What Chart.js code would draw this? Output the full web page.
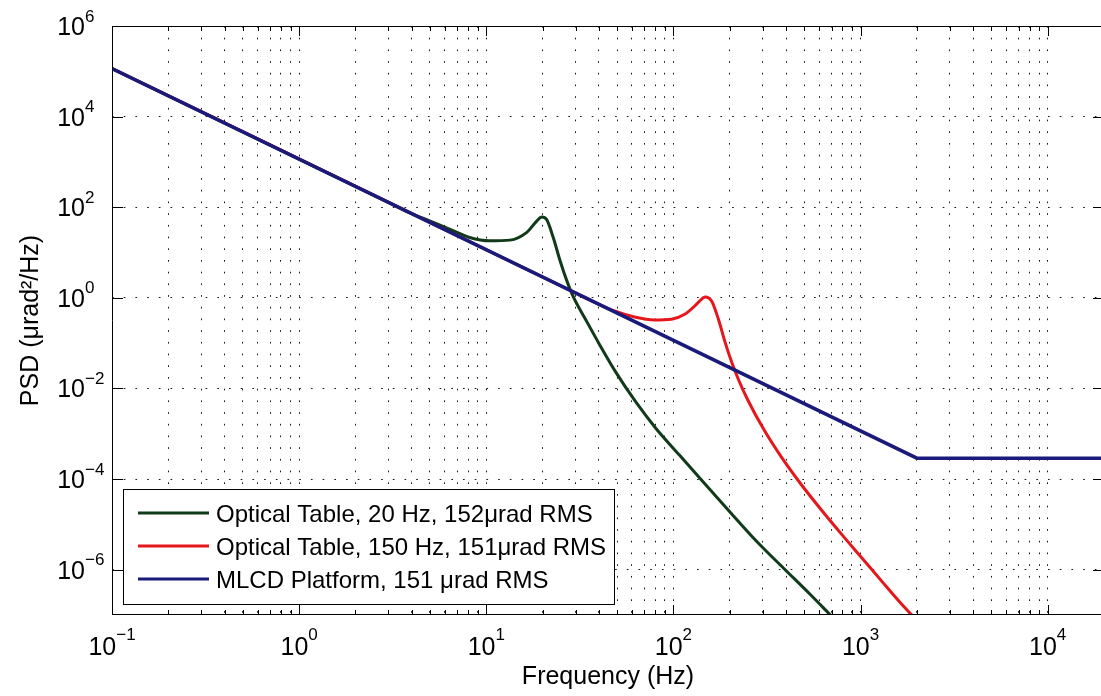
<!DOCTYPE html>
<html>
<head>
<meta charset="utf-8">
<script src="https://cdn.jsdelivr.net/npm/chart.js@4.4.1/dist/chart.umd.min.js"></script>
<style>
  html, body { margin: 0; padding: 0; background: #fff; overflow: hidden; }
</style>
</head>
<body>
<canvas id="psd" width="1110" height="696"></canvas>
<script>
// legend entries, in legend order
const seriesNames = [
    'Optical Table, 20 Hz, 152\u03bcrad RMS',
    'Optical Table, 150 Hz, 151\u03bcrad RMS',
    'MLCD Platform, 151 \u03bcrad RMS'
];
const seriesColors = ['#113a18', '#e5171d', '#1a1a7a'];

// Optical table, 20 Hz resonance
const freqTable20 = [0.1, 3, 3.88, 4.97, 6.36, 8.15, 10.4, 13.4, 16.4, 18.6, 19.8, 21.0, 22.8, 24.8, 26.9, 29.2,
    34.0, 40.2, 49.3, 63.1, 80.9, 108, 144, 200, 279, 387, 539, 690];
const psdTable20 = [1.15e5, 128, 76, 50, 33, 21.5, 18.1, 18.8, 27.5, 49.5, 61, 54, 21.4, 6.6, 2.43, 1.05,
    0.33, 0.095, 0.0226, 4.97e-3, 1.29e-3, 3.34e-4, 8.7e-5, 1.91e-5, 4.2e-6, 1.09e-6, 2.83e-7, 1e-7];

// Optical table, 150 Hz resonance
const freqTable150 = [0.1, 30, 37.7, 48.4, 62, 79.4, 97.5, 115, 130, 138, 148, 160, 174, 189, 205, 222,
    249, 306, 377, 482, 618, 791, 1012, 1297, 1660, 1880];
const psdTable150 = [1.15e5, 1.28, 0.80, 0.513, 0.378, 0.325, 0.337, 0.434, 0.66, 0.85, 1.05, 0.85, 0.337, 0.104, 0.0377, 0.0162,
    5.7e-3, 1.19e-3, 3.09e-4, 7.6e-5, 2.08e-5, 6.1e-6, 1.86e-6, 5.6e-7, 1.73e-7, 1e-7];

// MLCD platform
const freqPlatform = [0.1, 2000, 20000];
const psdPlatform = [1.15e5, 2.9e-4, 2.9e-4];

// axis ranges and labelled decades
const xMin = 0.1, xMax = 2e4;
const yMin = 1e-7, yMax = 1e6;
const xDecades = [-1, 0, 1, 2, 3, 4];
const yDecades = [-6, -4, -2, 0, 2, 4, 6];

const chartFont = "'Liberation Sans', Arial, Helvetica, sans-serif";

function toPoints(xs, ys) {
    return xs.map((v, i) => ({ x: v, y: ys[i] }));
}

function isDecade(v) {
    const e = Math.log10(v);
    return Math.abs(e - Math.round(e)) < 1e-9;
}

function expLabel(e) {
    return e < 0 ? '\u2212' + (-e) : String(e);
}

// grid positions: every 1..9 x 10^k on x, labelled decades on y
const xGridValues = [];
for (let e = xDecades[0]; e <= xDecades[xDecades.length - 1]; e++) {
    for (let m = 1; m <= 9; m++) {
        const v = m * Math.pow(10, e);
        if (v <= xMax) xGridValues.push(v);
    }
}
const yGridValues = yDecades.map(e => Math.pow(10, e));

// frame, inward ticks, superscript tick labels and the boxed legend
const axesDecor = {
    id: 'axesDecor',
    afterDraw(chart) {
        const { ctx, chartArea: a, scales: { x, y } } = chart;
        ctx.save();
        ctx.strokeStyle = '#000';
        ctx.lineWidth = 1;
        ctx.setLineDash([]);

        ctx.beginPath();
        ctx.rect(a.left + 0.5, a.top + 0.5, a.right - a.left - 1, a.bottom - a.top - 1);
        ctx.stroke();

        ctx.beginPath();
        xGridValues.forEach(v => {
            const px = Math.round(x.getPixelForValue(v)) + 0.5;
            const len = isDecade(v) ? 10 : 5;
            ctx.moveTo(px, a.bottom);
            ctx.lineTo(px, a.bottom - len);
            ctx.moveTo(px, a.top);
            ctx.lineTo(px, a.top + len);
        });
        yGridValues.forEach(v => {
            const py = Math.round(y.getPixelForValue(v)) + 0.5;
            ctx.moveTo(a.left, py);
            ctx.lineTo(a.left + 11, py);
            ctx.moveTo(a.right, py);
            ctx.lineTo(a.right - 11, py);
        });
        ctx.stroke();

        const baseFont = '25px ' + chartFont;
        const supFont = '17px ' + chartFont;
        ctx.fillStyle = '#000';
        ctx.textBaseline = 'alphabetic';

        xDecades.forEach(e => {
            const px = x.getPixelForValue(Math.pow(10, e));
            const sup = expLabel(e);
            ctx.font = baseFont;
            const w1 = ctx.measureText('10').width;
            ctx.font = supFont;
            const w2 = ctx.measureText(sup).width;
            const start = px - (w1 + w2) / 2;
            ctx.textAlign = 'left';
            ctx.font = baseFont;
            ctx.fillText('10', start, a.bottom + 40);
            ctx.font = supFont;
            ctx.fillText(sup, start + w1, a.bottom + 25);
        });

        yDecades.forEach(e => {
            const py = y.getPixelForValue(Math.pow(10, e));
            ctx.textAlign = 'right';
            ctx.font = baseFont;
            ctx.fillText('10', a.left - 27, py + 9);
            ctx.textAlign = 'left';
            ctx.font = supFont;
            ctx.fillText(expLabel(e), a.left - 27, py - 4.5);
        });

        // legend box inside the plot, lower left
        const boxW = 491, boxH = 115;
        const bx = a.left + 11, by = a.bottom - 11 - boxH;
        ctx.fillStyle = '#fff';
        ctx.fillRect(bx, by, boxW, boxH);
        ctx.strokeStyle = '#000';
        ctx.lineWidth = 1;
        ctx.strokeRect(Math.round(bx) + 0.5, Math.round(by) + 0.5, boxW, boxH);
        ctx.font = '24px ' + chartFont;
        ctx.textAlign = 'left';
        seriesNames.forEach((name, i) => {
            const rowY = by + 24 + i * 33;
            ctx.strokeStyle = seriesColors[i];
            ctx.lineWidth = 3;
            ctx.beginPath();
            ctx.moveTo(bx + 15, rowY);
            ctx.lineTo(bx + 86, rowY);
            ctx.stroke();
            ctx.fillStyle = '#000';
            ctx.fillText(name, bx + 93, rowY + 8.5);
        });
        ctx.restore();
    }
};

const ctx = document.getElementById('psd').getContext('2d');
const psdChart = new Chart(ctx, {
    type: 'line',
    data: {
        datasets: [
            {
                label: seriesNames[0],
                data: toPoints(freqTable20, psdTable20),
                borderColor: seriesColors[0],
                borderWidth: 3,
                pointRadius: 0,
                cubicInterpolationMode: 'monotone',
                order: 2
            },
            {
                label: seriesNames[1],
                data: toPoints(freqTable150, psdTable150),
                borderColor: seriesColors[1],
                borderWidth: 3,
                pointRadius: 0,
                cubicInterpolationMode: 'monotone',
                order: 1
            },
            {
                label: seriesNames[2],
                data: toPoints(freqPlatform, psdPlatform),
                borderColor: seriesColors[2],
                borderWidth: 3.5,
                pointRadius: 0,
                tension: 0,
                order: 0
            }
        ]
    },
    options: {
        responsive: false,
        animation: false,
        events: [],
        layout: { padding: { left: 0, top: 26, right: 6, bottom: 0 } },
        plugins: {
            legend: { display: false },
            tooltip: { enabled: false }
        },
        scales: {
            x: {
                type: 'logarithmic',
                min: xMin,
                max: xMax,
                afterBuildTicks: scale => { scale.ticks = xGridValues.map(v => ({ value: v })); },
                afterFit: scale => { scale.height = 81; },
                ticks: { display: false },
                grid: { color: '#1a1a1a', lineWidth: 1, drawTicks: false },
                border: { display: false, dash: [1.7, 10] },
                title: {
                    display: true,
                    text: 'Frequency (Hz)',
                    color: '#000',
                    font: { family: chartFont, size: 25 },
                    padding: { top: 0, bottom: 4 }
                }
            },
            y: {
                type: 'logarithmic',
                min: yMin,
                max: yMax,
                afterBuildTicks: scale => { scale.ticks = yGridValues.map(v => ({ value: v })); },
                afterFit: scale => { scale.width = 112; },
                ticks: { display: false },
                grid: { color: '#1a1a1a', lineWidth: 1, drawTicks: false },
                border: { display: false, dash: [1.7, 10] },
                title: {
                    display: true,
                    text: 'PSD (\u03bcrad\u00b2/Hz)',
                    color: '#000',
                    font: { family: chartFont, size: 25 },
                    padding: { top: 16, bottom: 0 }
                }
            }
        }
    },
    plugins: [axesDecor]
});
</script>
</body>
</html>
